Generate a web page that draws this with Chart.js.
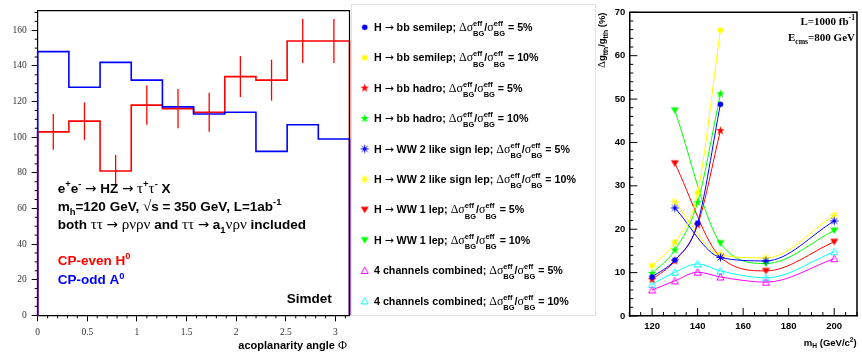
<!DOCTYPE html>
<html>
<head>
<meta charset="utf-8">
<script src="https://cdn.jsdelivr.net/npm/chart.js@4.4.1/dist/chart.umd.min.js"></script>
<style>
  html, body { margin: 0; padding: 0; background: #fff; }
  body { width: 862px; height: 358px; position: relative; overflow: hidden; }
  canvas { position: absolute; top: 0; }
  #hist { left: 0; }
  #coupling { left: 350px; }
</style>
</head>
<body>
<canvas id="hist" width="352" height="358"></canvas>
<canvas id="coupling" width="512" height="358"></canvas>
<script>
// ---- left panel: acoplanarity angle, 10 bins over [0, pi]
var nBins = 10;
var cpEven = [103, 109, 81, 118, 116, 114, 134, 132, 154, 154];
var cpEvenErr = [10, 10.5, 9, 11, 11, 11, 11.5, 11.5, 12.4, 12.4];
var cpOdd = [148, 128, 142, 132, 117, 113, 114, 92, 107, 99];
var phiTicks = [0, 0.5, 1, 1.5, 2, 2.5, 3];
var countTicks = [0, 20, 40, 60, 80, 100, 120, 140, 160];

// ---- right panel: delta g_tth / g_tth vs m_H
var massTicks = [120, 140, 160, 180, 200];
var deltaTicks = [0, 10, 20, 30, 40, 50, 60, 70];
var massBB = [120, 130, 140, 150];
var massWW = [130, 150, 170, 200];
var massAll = [120, 130, 140, 150, 170, 200];
var bbSemilep5 = [9.0, 12.9, 21.4, 48.8];
var bbSemilep10 = [11.6, 17.0, 28.4, 65.9];
var bbHadro5 = [8.4, 12.7, 21.0, 42.7];
var bbHadro10 = [9.8, 15.2, 26.2, 51.2];
var ww2ls5 = [24.9, 13.5, 12.7, 21.9];
var ww2ls10 = [26.3, 14.1, 13.4, 23.2];
var ww1l5 = [35.2, 13.6, 10.4, 17.1];
var ww1l10 = [47.4, 16.8, 12.1, 19.7];
var comb5 = [6.0, 8.1, 10.1, 9.0, 7.8, 13.2];
var comb10 = [7.3, 10.1, 12.0, 10.4, 8.8, 14.8];
var channelNames = ['H → bb semilep', 'H → bb semilep', 'H → bb hadro', 'H → bb hadro',
  'H → WW 2 like sign lep', 'H → WW 2 like sign lep', 'H → WW 1 lep', 'H → WW 1 lep',
  '4 channels combined', '4 channels combined'];
var bgUncert = ['5%', '10%', '5%', '10%', '5%', '10%', '5%', '10%', '5%', '10%'];
var seriesColors = ['#0000ff', '#ffff00', '#ff0000', '#00ff00', '#0000ff', '#ffff00', '#ff0000', '#00ff00', '#ff00ff', '#00ffff'];
var seriesMarkers = ['circle', 'circle', 'star', 'star', 'asterisk', 'asterisk', 'tridown', 'tridown', 'triopen', 'triopen'];
var seriesMass = [massBB, massBB, massBB, massBB, massWW, massWW, massWW, massWW, massAll, massAll];
var seriesValues = [bbSemilep5, bbSemilep10, bbHadro5, bbHadro10, ww2ls5, ww2ls10, ww1l5, ww1l10, comb5, comb10];

// ---- small rich text helper (sup ^{..}, sub _{..}, stacked @{sup}{sub})
var SYM = 'ΔσστρνΦ√';
function fontOf(size, bold, family, ch) {
  if (ch === '→') return size + 'px "DejaVu Sans", sans-serif';
  if (ch && SYM.indexOf(ch) >= 0) return (size * 1.12).toFixed(2) + 'px "Liberation Serif", serif';
  var fam = family === 'serif' ? '"Liberation Serif", serif' : '"Liberation Sans", Arial, sans-serif';
  return (bold ? 'bold ' : '') + size + 'px ' + fam;
}
function richRuns(str, o) {
  var runs = [];
  function add(text, size, dy) {
    for (var k = 0; k < text.length; k++) {
      var ch = text[k];
      var font = fontOf(size, o.bold, o.family, ch);
      var last = runs[runs.length - 1];
      if (last && !last.stack && last.font === font && last.dy === dy) last.text += ch;
      else runs.push({ text: ch, font: font, dy: dy });
    }
  }
  function group(k) { var j = str.indexOf('}', k); return [str.slice(k + 1, j), j + 1]; }
  var i = 0;
  while (i < str.length) {
    var c = str[i];
    if ((c === '^' || c === '_') && str[i + 1] === '{') {
      var g = group(i + 1);
      add(g[0], o.size * 0.7, c === '^' ? -o.size * 0.42 : o.size * 0.3);
      i = g[1];
    } else if (c === '@' && str[i + 1] === '{') {
      var a = group(i + 1), b = group(a[1]);
      runs.push({ stack: true, sup: a[0], sub: b[0], font: fontOf(o.size * 0.7, o.bold, o.family, '') });
      i = b[1];
    } else { add(c, o.size, 0); i++; }
  }
  return runs;
}
function drawRich(ctx, str, x, y, o) {
  var runs = richRuns(str, o), w = 0;
  ctx.save();
  runs.forEach(function (r) {
    ctx.font = r.font;
    r.w = r.stack ? Math.max(ctx.measureText(r.sup).width, ctx.measureText(r.sub).width) : ctx.measureText(r.text).width;
    w += r.w;
  });
  var cx = o.align === 'right' ? x - w : (o.align === 'center' ? x - w / 2 : x);
  ctx.fillStyle = o.color || '#000';
  ctx.textBaseline = 'alphabetic';
  ctx.textAlign = 'left';
  runs.forEach(function (r) {
    ctx.font = r.font;
    if (r.stack) {
      ctx.fillText(r.sup, cx, y - o.size * 0.45);
      ctx.fillText(r.sub, cx, y + o.size * 0.5);
    } else {
      ctx.fillText(r.text, cx, y + r.dy);
    }
    cx += r.w;
  });
  ctx.restore();
  return w;
}

function tickMarks(chart, axis, values, len, inside) {
  var a = chart.chartArea, s = chart.scales[axis], ctx = chart.ctx;
  ctx.save();
  ctx.strokeStyle = '#000';
  ctx.lineWidth = 1;
  ctx.beginPath();
  values.forEach(function (v) {
    var p = s.getPixelForValue(v);
    if (axis === 'x') { ctx.moveTo(p, a.bottom); ctx.lineTo(p, inside ? a.bottom - len : a.bottom + len); }
    else { ctx.moveTo(a.left, p); ctx.lineTo(inside ? a.left + len : a.left - len, p); }
  });
  ctx.stroke();
  ctx.restore();
}
function frameTopRight(chart, w) {
  var a = chart.chartArea, ctx = chart.ctx;
  ctx.save();
  ctx.strokeStyle = '#000';
  ctx.lineWidth = w;
  ctx.beginPath();
  ctx.moveTo(a.left, a.top); ctx.lineTo(a.right, a.top); ctx.lineTo(a.right, a.bottom);
  ctx.stroke();
  ctx.restore();
}

// ---- left chart
var binEdges = [];
for (var i = 0; i <= nBins; i++) binEdges.push(i * Math.PI / nBins);

function histOutline(vals) {
  var pts = [{ x: 0, y: 0 }];
  vals.forEach(function (v, k) { pts.push({ x: binEdges[k], y: v }); });
  pts.push({ x: Math.PI, y: vals[vals.length - 1] });
  pts.push({ x: Math.PI, y: 0 });
  return pts;
}

var errorBars = {
  id: 'errorBars',
  afterDatasetsDraw: function (chart) {
    var ctx = chart.ctx, xs = chart.scales.x, ys = chart.scales.y;
    ctx.save();
    ctx.strokeStyle = '#ff0000';
    ctx.lineWidth = 1.3;
    cpEven.forEach(function (v, k) {
      var px = xs.getPixelForValue((binEdges[k] + binEdges[k + 1]) / 2);
      ctx.beginPath();
      ctx.moveTo(px, ys.getPixelForValue(v - cpEvenErr[k]));
      ctx.lineTo(px, ys.getPixelForValue(v + cpEvenErr[k]));
      ctx.stroke();
    });
    ctx.restore();
  }
};

var histDecor = {
  id: 'histDecor',
  afterDraw: function (chart) {
    var ctx = chart.ctx;
    var minorY = [], minorX = [];
    for (var v = 5; v < 171; v += 5) if (v % 20) minorY.push(v);
    for (var k = 1; k <= 31; k++) if (k % 5) minorX.push(k / 10);
    tickMarks(chart, 'y', minorY, 3, false);
    tickMarks(chart, 'x', minorX, 3, false);
    frameTopRight(chart, 1.2);
    var t = { size: 13.5, bold: true };
    drawRich(ctx, 'e^{+}e^{-} → HZ → τ^{+}τ^{-} X', 57.7, 192.7, t);
    drawRich(ctx, 'm_{h}=120 GeV, √s = 350 GeV, L=1ab^{-1}', 57.7, 210.7, t);
    drawRich(ctx, 'both ττ → ρνρν and ττ → a_{1}νρν included', 57.7, 229, t);
    drawRich(ctx, 'CP-even H^{0}', 57.7, 265, { size: 13.5, bold: true, color: '#ff0000' });
    drawRich(ctx, 'CP-odd A^{0}', 57.7, 284.3, { size: 13.5, bold: true, color: '#0000ff' });
    drawRich(ctx, 'Simdet', 331.7, 302.5, { size: 13.5, bold: true, align: 'right' });
    drawRich(ctx, 'acoplanarity angle Φ', 347, 349, { size: 11, bold: true, align: 'right' });
  }
};

new Chart(document.getElementById('hist'), {
  type: 'line',
  data: {
    datasets: [
      { data: histOutline(cpOdd), borderColor: '#0000ff', borderWidth: 1.6, stepped: 'before', pointRadius: 0, clip: false },
      { data: histOutline(cpEven), borderColor: '#ff0000', borderWidth: 1.6, stepped: 'before', pointRadius: 0, clip: false }
    ]
  },
  options: {
    responsive: false,
    animation: false,
    devicePixelRatio: 1,
    layout: { padding: { top: 4.7, right: 2.5, left: 0, bottom: 0 } },
    plugins: { legend: { display: false }, tooltip: { enabled: false } },
    scales: {
      x: {
        type: 'linear', min: 0, max: Math.PI,
        afterBuildTicks: function (s) { s.ticks = phiTicks.map(function (v) { return { value: v }; }); },
        afterFit: function (s) { s.height = 42.7; },
        grid: { drawOnChartArea: false, tickLength: 6, color: '#000' },
        border: { color: '#000', width: 1.2 },
        ticks: { autoSkip: false, maxRotation: 0, padding: 5, color: '#333',
          font: { family: '"Liberation Serif", serif', size: 9.5 },
          callback: function (v) { return String(v); } }
      },
      y: {
        min: 0, max: 171,
        afterBuildTicks: function (s) { s.ticks = countTicks.map(function (v) { return { value: v }; }); },
        afterFit: function (s) { s.width = 37.7; },
        grid: { drawOnChartArea: false, tickLength: 6, color: '#000' },
        border: { color: '#000', width: 1.2 },
        ticks: { padding: 5, color: '#333',
          font: { family: '"Liberation Serif", serif', size: 9.5 },
          callback: function (v) { return String(v); } }
      }
    }
  },
  plugins: [errorBars, histDecor]
});

// ---- right chart
function makeMarker(kind, color) {
  var c = document.createElement('canvas');
  c.width = 11; c.height = 11;
  var g = c.getContext('2d'), m = 5.5;
  g.fillStyle = color; g.strokeStyle = color; g.lineWidth = 1;
  g.beginPath();
  if (kind === 'circle') {
    g.arc(m, m, 2.8, 0, 2 * Math.PI); g.fill();
  } else if (kind === 'star') {
    for (var k = 0; k < 10; k++) {
      var r = k % 2 ? 1.8 : 4.5, a = -Math.PI / 2 + k * Math.PI / 5;
      g.lineTo(m + r * Math.cos(a), m + r * Math.sin(a));
    }
    g.closePath(); g.fill();
  } else if (kind === 'asterisk') {
    g.moveTo(m, m - 4); g.lineTo(m, m + 4); g.moveTo(m - 4, m); g.lineTo(m + 4, m);
    g.moveTo(m - 2.9, m - 2.9); g.lineTo(m + 2.9, m + 2.9); g.moveTo(m + 2.9, m - 2.9); g.lineTo(m - 2.9, m + 2.9);
    g.stroke();
  } else if (kind === 'tridown') {
    g.moveTo(m - 4, m - 3); g.lineTo(m + 4, m - 3); g.lineTo(m, m + 3.5); g.closePath(); g.fill();
  } else {
    g.moveTo(m, m - 3.5); g.lineTo(m + 3.5, m + 3); g.lineTo(m - 3.5, m + 3); g.closePath(); g.stroke();
  }
  return c;
}
var markerImgs = seriesMarkers.map(function (k, n) { return makeMarker(k, seriesColors[n]); });

var couplingSets = seriesValues.map(function (vals, n) {
  return {
    data: vals.map(function (v, j) { return { x: seriesMass[n][j], y: v }; }),
    borderColor: seriesColors[n],
    borderWidth: 1,
    pointStyle: markerImgs[n],
    pointRadius: 4,
    cubicInterpolationMode: 'monotone',
    fill: false
  };
});

var couplingDecor = {
  id: 'couplingDecor',
  afterDraw: function (chart) {
    var ctx = chart.ctx;
    var minorX = [], minorY = [];
    for (var v = 110; v <= 210; v += 5) if (massTicks.indexOf(v) < 0) minorX.push(v);
    for (var u = 2; u < 70; u += 2) if (u % 10) minorY.push(u);
    tickMarks(chart, 'x', massTicks, 8, true);
    tickMarks(chart, 'x', minorX, 4, true);
    tickMarks(chart, 'y', deltaTicks, 8, true);
    tickMarks(chart, 'y', minorY, 4, true);
    frameTopRight(chart, 1.5);

    // titles and labels
    drawRich(ctx, 'm_{H} (GeV/c^{2})', 506.7, 345.5, { size: 9.5, bold: true, align: 'right' });
    ctx.save();
    ctx.translate(255, 12.5);
    ctx.rotate(-Math.PI / 2);
    drawRich(ctx, 'Δg_{tth}/g_{tth} (%)', 0, 0, { size: 9.5, bold: true, align: 'right' });
    ctx.restore();
    drawRich(ctx, 'L=1000 fb^{-1}', 505, 25, { size: 11, bold: true, family: 'serif', align: 'right' });
    drawRich(ctx, 'E_{cms}=800 GeV', 505, 40.5, { size: 11, bold: true, family: 'serif', align: 'right' });

    // legend box
    ctx.save();
    ctx.strokeStyle = '#e2e2e2';
    ctx.lineWidth = 1;
    ctx.strokeRect(1.5, 4.5, 244, 311);
    ctx.restore();
    channelNames.forEach(function (name, n) {
      var ry = 27.3 + n * 30.4;
      var img = markerImgs[n];
      ctx.drawImage(img, 14.7 - img.width / 2, ry - img.height / 2);
      drawRich(ctx, name + '; Δσ@{eff}{BG}/σ@{eff}{BG} = ' + bgUncert[n], 24, ry + 3.6, { size: 10.7, bold: true });
    });
  }
};

new Chart(document.getElementById('coupling'), {
  type: 'line',
  data: { datasets: couplingSets },
  options: {
    responsive: false,
    animation: false,
    devicePixelRatio: 1,
    layout: { padding: { left: 240, top: 12.3, right: 4.3, bottom: 0 } },
    plugins: { legend: { display: false }, tooltip: { enabled: false } },
    scales: {
      x: {
        type: 'linear', min: 110, max: 210,
        afterBuildTicks: function (s) { s.ticks = massTicks.map(function (v) { return { value: v }; }); },
        afterFit: function (s) { s.height = 42; },
        grid: { display: false, drawTicks: false },
        border: { color: '#000', width: 1.5 },
        ticks: { autoSkip: false, maxRotation: 0, padding: 4.5, color: '#000',
          font: { family: '"Liberation Sans", Arial, sans-serif', size: 9.5, weight: 'bold' },
          callback: function (v) { return String(v); } }
      },
      y: {
        min: 0, max: 70,
        afterBuildTicks: function (s) { s.ticks = deltaTicks.map(function (v) { return { value: v }; }); },
        afterFit: function (s) { s.width = 39.3; },
        grid: { display: false, drawTicks: false },
        border: { color: '#000', width: 1.5 },
        ticks: { padding: 4, color: '#000',
          font: { family: '"Liberation Sans", Arial, sans-serif', size: 9.5, weight: 'bold' },
          callback: function (v) { return String(v); } }
      }
    }
  },
  plugins: [couplingDecor]
});
</script>
</body>
</html>
